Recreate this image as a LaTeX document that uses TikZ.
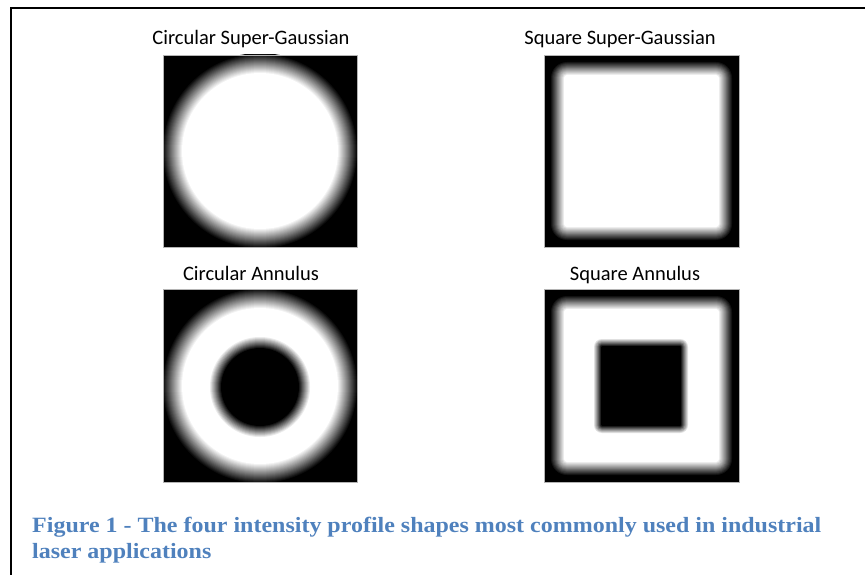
\documentclass[tikz,border=0pt]{standalone}
\usepackage{fontspec}
\setmainfont{Liberation Serif}
\newfontfamily\calibri{Carlito}
\newfontfamily\capfont{Liberation Serif}[FakeStretch=1.1]
\usetikzlibrary{positioning}
\definecolor{capblue}{HTML}{4F81BD}
\definecolor{boxedge}{HTML}{B4B4B4}

\begin{document}
\begin{tikzpicture}[
  x=1pt, y=-1pt,
  ttl/.style={font=\calibri\fontsize{20.5}{24}\selectfont, anchor=base, inner sep=0pt},
  captext/.style={font=\capfont\bfseries\fontsize{21.8}{27}\selectfont, text=capblue,
              anchor=base west, inner sep=0pt},
  panel/.style={draw=boxedge, line width=0.6pt},
  frameline/.style={line width=2pt, black},
]
\useasboundingbox (0,0) rectangle (865,575);

% ---------------- outer frame ---------------------------------------
\draw[frameline] (11,575) -- (11,8) -- (865,8);

% ---------------- circular super-gaussian ---------------------------
\begin{scope}
  \clip (163,55) rectangle (357,247);
  \fill (163,55) rectangle (357,247);
  \foreach \i [evaluate=\i as \p using int(5*\i), evaluate=\i as \r using 98-\i]
      in {0,...,20}
    \fill[white!\p!black] (260,151) circle[radius=\r];
\end{scope}
\draw[panel] (163,55) rectangle (357,247);

% ---------------- square super-gaussian -----------------------------
\begin{scope}
  \clip (544,55) rectangle (739,247);
  \fill (544,55) rectangle (739,247);
  \foreach \i [evaluate=\i as \p using int(\i*100/14), evaluate=\i as \c using 17-\i]
      in {0,...,14}
    \fill[white!\p!black, rounded corners=\c pt] ({550+\i},{61+\i}) rectangle ({733-\i},{241-\i});
\end{scope}
\draw[panel] (544,55) rectangle (739,247);

% ---------------- circular annulus ----------------------------------
\begin{scope}
  \clip (163,289) rectangle (357,482);
  \fill (163,289) rectangle (357,482);
  \foreach \i [evaluate=\i as \p using int(5*\i), evaluate=\i as \r using 98-\i]
      in {0,...,20}
    \fill[white!\p!black] (260,386) circle[radius=\r];
  % dark core
  \foreach \i [evaluate=\i as \p using int(\i*100/12), evaluate=\i as \r using 51-\i]
      in {0,...,12}
    \fill[black!\p!white] (260,387) circle[radius=\r];
\end{scope}
\draw[panel] (163,289) rectangle (357,482);

% ---------------- square annulus ------------------------------------
\begin{scope}
  \clip (544,289) rectangle (739,482);
  \fill (544,289) rectangle (739,482);
  \foreach \i [evaluate=\i as \p using int(\i*100/14), evaluate=\i as \c using 17-\i]
      in {0,...,14}
    \fill[white!\p!black, rounded corners=\c pt] ({550+\i},{295+\i}) rectangle ({733-\i},{476-\i});
  % dark core
  \foreach \i [evaluate=\i as \p using int(\i*100/8), evaluate=\i as \c using 9-\i]
      in {0,...,8}
    \fill[black!\p!white, rounded corners=\c pt] ({593+\i},{338+\i}) rectangle ({689-\i},{434-\i});
\end{scope}
\draw[panel] (544,289) rectangle (739,482);

% ---------------- titles --------------------------------------------
\node[ttl] (tcsg) at (251,45)  {Circular Super-Gaussian};
\node[ttl] (tssg) at (620,45)  {Square Super-Gaussian};
\node[ttl] (tca)  at (251,280) {Circular Annulus};
\node[ttl] (tsa)  at (635,280) {Square Annulus};

% ---------------- caption -------------------------------------------
\node[captext] (cap1) at (32,532)
  {Figure 1 - The four intensity profile shapes most commonly used in industrial};
\node[captext] (cap2) at (32,558) {laser applications};

\end{tikzpicture}
\end{document}
